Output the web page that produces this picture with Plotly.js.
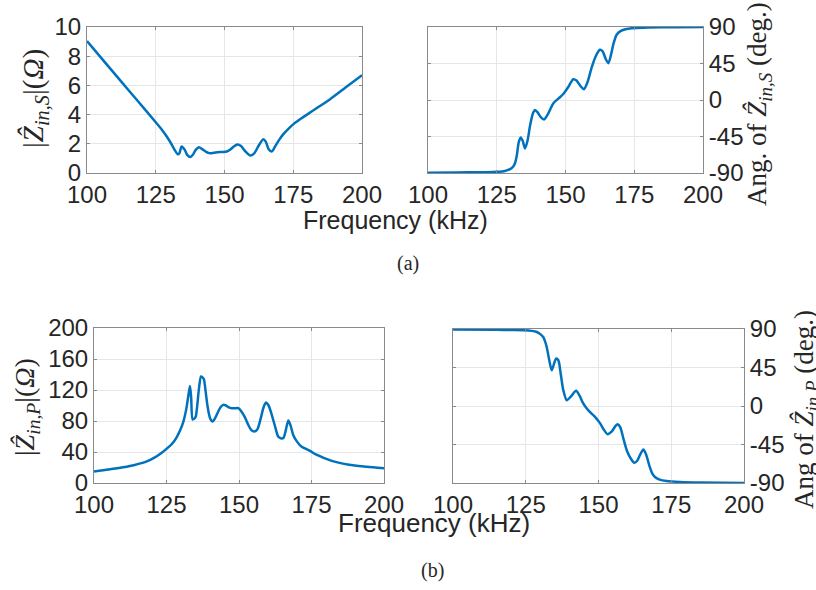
<!DOCTYPE html>
<html>
<head>
<meta charset="utf-8">
<script src="https://cdn.plot.ly/plotly-3.0.1.min.js"></script>
<style>html,body{margin:0;padding:0;background:#fff;}#chart{width:816px;height:590px;}</style>
</head>
<body>
<div id="chart"></div>
<script>
// ---- data ----
const xTicks = [100, 125, 150, 175, 200];
const magSTicks = [0, 2, 4, 6, 8, 10];
const angTicks = [-90, -45, 0, 45, 90];
const magPTicks = [0, 40, 80, 120, 160, 200];

const magS_f = [100, 106, 112, 118, 125.3, 127.5, 129, 130.5, 131.8, 133, 133.6, 134.4, 135.5, 136.5, 137.5, 138.5, 139.6, 140.7, 142, 143.3, 144.5, 146, 147.5, 149, 150.8, 152, 153.3, 154.7, 156, 157.5, 159.3, 160.8, 162.5, 164.1, 165, 166, 167.2, 168.5, 170, 171.4, 173.5, 175.4, 178, 180, 184, 188.4, 194, 200];
const magS = [9.04, 7.7, 6.36, 5.03, 3.41, 2.9, 2.5, 2.05, 1.6, 1.28, 1.35, 1.82, 1.6, 1.22, 1.09, 1.25, 1.6, 1.77, 1.62, 1.45, 1.36, 1.38, 1.42, 1.44, 1.47, 1.59, 1.8, 1.95, 1.85, 1.5, 1.2, 1.35, 1.9, 2.32, 2.15, 1.65, 1.47, 1.85, 2.3, 2.66, 3.08, 3.4, 3.75, 4.0, 4.5, 5.05, 5.85, 6.7];

const angS_f = [100, 110, 120, 125, 128, 130, 131, 131.6, 132.3, 133, 133.7, 134.4, 135.3, 136.2, 137.2, 138.2, 138.9, 139.8, 141, 142.2, 143.5, 145.6, 147.5, 149.2, 151, 152.8, 154, 155.5, 156.7, 158, 159.5, 161, 162.5, 163.5, 164.7, 165.6, 166.5, 167.5, 168.6, 170, 172.2, 175, 180, 190, 200];
const angS = [-89.6, -89.4, -89, -88.6, -87.5, -85, -82, -78.3, -68, -52, -46.1, -50, -59.8, -50, -30, -16, -12.4, -15, -21, -23.9, -18, -4, 2, 7.4, 16, 25.6, 24, 17, 13.3, 22, 40, 54, 61.9, 60, 50, 45.4, 55, 70, 80.5, 85, 87.5, 88.8, 89.5, 89.8, 90];

const magP_f = [100, 105, 110, 114, 118, 121, 123, 125, 127, 128.5, 129.7, 130.8, 131.8, 132.5, 133.1, 133.5, 134, 134.6, 135.1, 135.6, 136.2, 136.9, 137.5, 137.9, 138.5, 139.2, 140, 140.9, 141.8, 142.8, 143.7, 144.6, 145.5, 146.5, 147.5, 148.6, 149.8, 150.9, 152, 153.2, 154.2, 155.2, 156.3, 157.4, 158.5, 159.3, 160.2, 161.3, 162.5, 163.5, 164.4, 165.3, 166, 167, 167.8, 168.7, 170, 171.5, 174.5, 176.7, 182, 188, 194, 200];
const magP = [14.7, 17.3, 20.3, 23.3, 27.5, 33, 38, 44, 51, 59, 68, 79, 95, 112, 125, 110, 82, 83, 86, 100, 122, 137.4, 136, 134, 118, 98, 84, 79.3, 84, 92, 98, 100.8, 100, 97.5, 96.5, 96.5, 96.5, 92, 85, 75, 68.5, 66.3, 69, 82, 98, 103.8, 100, 88, 72, 60, 57.8, 58, 66, 80.5, 74, 62, 53.4, 47, 41.4, 36.5, 28.5, 23.5, 21, 19];

const angP_f = [100, 115, 120, 124.7, 127, 128.8, 130, 131, 131.7, 132.2, 133, 133.9, 134.6, 135.4, 136.2, 137, 137.9, 139.1, 140.5, 142.3, 143.5, 144.6, 145.7, 147.2, 148.8, 150.5, 152, 153.1, 154.5, 155.8, 156.6, 157.5, 158.7, 159.9, 161.2, 162.3, 163.3, 164.3, 165.4, 166.3, 167.5, 168.5, 169.4, 171, 173.4, 178, 185, 200];
const angP = [89.3, 89, 88.8, 88.5, 87.8, 86.5, 84, 80.7, 75, 69, 55, 41.8, 48, 55.4, 53.5, 38, 18.5, 6.8, 11, 17.7, 12, 4, -1.7, -7.5, -12.7, -20, -28.5, -32.9, -30, -23.5, -21.2, -25, -40, -53.5, -62, -66.4, -64, -57, -50.8, -56, -70, -79, -83, -86, -87.7, -88.8, -89.5, -90];

// ---- styling ----
const W = 816, H = 590;
const px = v => v / W;
const py = v => 1 - v / H;
const blue = '#0072BD';
const tickFont = {family: 'Liberation Sans, Arial, sans-serif', size: 24, color: '#262626'};
const serif = 'Liberation Serif, Times New Roman, serif';

function xax(d0, d1, anchor) {
  return {domain: [px(d0), px(d1)], range: [100, 200], anchor: anchor,
    tickvals: xTicks, ticktext: xTicks.map(String), tickfont: tickFont,
    showline: true, mirror: 'ticks', linecolor: '#8a8a8a', linewidth: 1,
    ticks: 'inside', ticklen: 3, tickcolor: '#8a8a8a',
    showgrid: true, gridcolor: '#e6e6e6', zeroline: false, fixedrange: true};
}
function yax(top, bot, anchor, rng, tv, side) {
  return {domain: [py(bot), py(top)], range: rng, anchor: anchor, side: side,
    tickvals: tv, ticktext: tv.map(String), tickfont: tickFont,
    showline: true, mirror: 'ticks', linecolor: '#8a8a8a', linewidth: 1,
    ticks: 'inside', ticklen: 3, tickcolor: '#8a8a8a',
    showgrid: true, gridcolor: '#e6e6e6', zeroline: false, fixedrange: true};
}
const lineStyle = {color: blue, width: 2.5, shape: 'spline', smoothing: 0.7};

const traces = [
  {x: magS_f, y: magS, xaxis: 'x', yaxis: 'y', mode: 'lines', line: lineStyle, hoverinfo: 'skip'},
  {x: angS_f, y: angS, xaxis: 'x2', yaxis: 'y2', mode: 'lines', line: lineStyle, hoverinfo: 'skip'},
  {x: magP_f, y: magP, xaxis: 'x3', yaxis: 'y3', mode: 'lines', line: lineStyle, hoverinfo: 'skip'},
  {x: angP_f, y: angP, xaxis: 'x4', yaxis: 'y4', mode: 'lines', line: lineStyle, hoverinfo: 'skip'}
];

function ann(text, x, y, size, family, angle) {
  return {text: text, x: px(x), y: py(y), xref: 'paper', yref: 'paper',
    xanchor: 'center', yanchor: 'middle', showarrow: false, textangle: angle || 0,
    font: {family: family, size: size, color: '#262626'}};
}

const layout = {
  width: W, height: H, margin: {l: 0, r: 0, t: 0, b: 0},
  paper_bgcolor: '#fff', plot_bgcolor: '#fff', showlegend: false,
  xaxis: xax(87, 362, 'y'),
  yaxis: yax(27, 173, 'x', [0, 10], magSTicks, 'left'),
  xaxis2: xax(428, 703, 'y2'),
  yaxis2: yax(27, 173, 'x2', [-90, 90], angTicks, 'right'),
  xaxis3: xax(94, 384, 'y3'),
  yaxis3: yax(328, 483, 'x3', [0, 200], magPTicks, 'left'),
  xaxis4: xax(453, 744, 'y4'),
  yaxis4: yax(329, 483, 'x4', [-90, 90], angTicks, 'right'),
  annotations: [
    ann('Frequency (kHz)', 395, 220, 25, 'Liberation Sans, Arial, sans-serif'),
    ann('Frequency (kHz)', 434, 523, 26, 'Liberation Sans, Arial, sans-serif'),
    ann('(a)', 408, 263, 20, serif),
    ann('(b)', 432, 570, 20, serif),
    ann('|<i>Ẑ</i><sub><i>in,S</i></sub>|(<i>Ω</i>)', 35, 99, 29, serif, -90),
    ann('Ang. of <i>Ẑ</i><sub><i>in,S</i></sub> (deg.)', 759, 104, 27, serif, -90),
    ann('|<i>Ẑ</i><sub><i>in,P</i></sub>|(<i>Ω</i>)', 26, 407, 28, serif, -90),
    ann('Ang of <i>Ẑ</i><sub><i>in,P</i></sub> (deg.)', 806, 410, 27, serif, -90)
  ]
};

Plotly.newPlot('chart', traces, layout, {staticPlot: true, displayModeBar: false});
</script>
</body>
</html>
